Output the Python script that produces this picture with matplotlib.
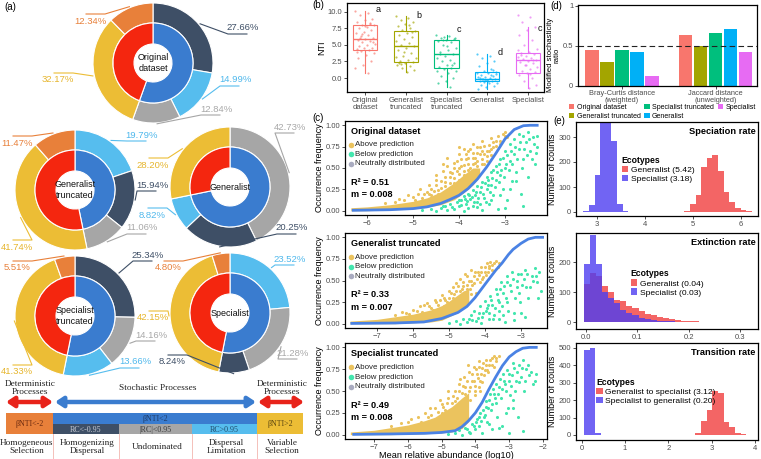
import numpy as np
import matplotlib
matplotlib.use('Agg')
import matplotlib.pyplot as plt
from matplotlib.patches import Wedge, Rectangle, FancyArrowPatch, Patch

plt.rcParams['font.family'] = ['Liberation Sans', 'DejaVu Sans']
plt.rcParams['font.size'] = 6
plt.rcParams['axes.linewidth'] = 0.9
plt.rcParams['xtick.major.size'] = 2.2
plt.rcParams['ytick.major.size'] = 2.2
plt.rcParams['xtick.major.width'] = 0.6
plt.rcParams['ytick.major.width'] = 0.6
plt.rcParams['xtick.labelsize'] = 5.5
plt.rcParams['ytick.labelsize'] = 5.5
plt.rcParams['xtick.major.pad'] = 1.2
plt.rcParams['ytick.major.pad'] = 1.2
plt.rcParams['xtick.color'] = '#333333'
plt.rcParams['ytick.color'] = '#333333'
plt.rcParams['xtick.labelcolor'] = '#4D4D4D'
plt.rcParams['ytick.labelcolor'] = '#4D4D4D'
SERIF = ['Liberation Serif', 'DejaVu Serif']

# ======================= DATA =======================
# ---- (a) community assembly donuts; order: HS, HD, UD, DL, VS
seg_names = ['Homogeneous Selection', 'Homogenizing Dispersal', 'Undominated',
             'Dispersal Limitation', 'Variable Selection']
donut_titles = ['Original\ndataset', 'Generalist\ntruncated', 'Generalist',
                'Specialist\ntruncated', 'Specialist']
pct_original = [12.34, 27.66, 12.84, 14.99, 32.17]
pct_gen_trunc = [11.47, 15.94, 11.06, 19.79, 41.74]
pct_generalist = [0.0, 20.25, 42.73, 8.82, 28.20]
pct_spec_trunc = [5.51, 25.34, 14.16, 13.66, 41.33]
pct_specialist = [4.80, 8.24, 21.28, 23.52, 42.15]
# clockwise order of the outer segments from 12 o'clock
order_original = [1, 3, 2, 4, 0]
order_gen_trunc = [3, 1, 2, 4, 0]
order_generalist = [2, 1, 3, 4, 0]
order_spec_trunc = [1, 2, 3, 4, 0]
order_specialist = [3, 2, 1, 4, 0]

scheme_top = ['Deterministic\nProcesses', 'Stochastic Processes', 'Deterministic\nProcesses']
scheme_bars = ['\u03b2NTI<-2', '\u03b2NTI<2', 'RC<-0.95', '|RC|<0.95', 'RC>0.95', '\u03b2NTI>2']
scheme_bottom = ['Homogeneous\nSelection', 'Homogenizing\nDispersal', 'Undominated',
                 'Dispersal\nLimitation', 'Variable\nSelection']

# ---- (b) NTI boxplots
nti_groups = ['Original\ndataset', 'Generalist\ntruncated', 'Specialist\ntruncated',
              'Generalist', 'Specialist']
nti_whislo = [0.8, 0.9, -1.3, -1.6, -1.5]
nti_q1 = [4.3, 2.4, 1.5, -0.5, 0.8]
nti_med = [5.9, 4.9, 3.6, -0.15, 2.8]
nti_q3 = [8.1, 7.1, 5.8, 0.9, 3.8]
nti_whishi = [10.2, 9.4, 6.5, 3.6, 7.8]
nti_letters = ['a', 'b', 'c', 'd', 'c']
nti_pts_original = [10.2, 9.8, 9.5, 9.0, 8.8, 8.5, 8.3, 8.1, 8.0, 7.8, 7.6, 7.3, 7.0, 6.8,
                    6.5, 6.3, 6.1, 5.9, 5.8, 5.6, 5.4, 5.2, 5.0, 4.8, 4.6, 4.5, 4.4, 4.3,
                    4.1, 3.8, 3.5, 3.1, 2.6, 2.0, 1.5, 0.8, 6.0, 5.5, 7.9, 4.0, 8.2, 6.6]
nti_pts_gen_trunc = [9.4, 9.1, 8.8, 8.5, 8.2, 7.9, 7.6, 7.3, 7.1, 6.8, 6.5, 6.2, 5.9, 5.6,
                     5.3, 5.0, 4.9, 4.6, 4.2, 3.8, 3.4, 3.0, 2.7, 2.5, 2.4, 2.2, 2.0, 1.8,
                     1.5, 1.2, 0.9, 2.3, 7.0, 4.0, 3.2, 8.0, 2.1]
nti_pts_spec_trunc = [6.5, 6.3, 6.1, 5.9, 5.8, 5.6, 5.4, 5.0, 4.6, 4.2, 3.9, 3.6, 3.4, 3.1,
                      2.8, 2.5, 2.2, 1.9, 1.6, 1.5, 1.3, 1.0, 0.7, 0.3, 0.0, -0.4, -0.8,
                      -1.3, 5.7, 6.0, 4.8, 3.7, 2.0, 6.2, 1.1]
nti_pts_generalist = [3.6, 3.3, 3.0, 2.6, 2.2, 1.8, 1.4, 1.0, 0.9, 0.7, 0.5, 0.3, 0.2, 0.1,
                      0.0, -0.1, -0.2, -0.3, -0.4, -0.5, -0.6, -0.7, -0.8, -1.0, -1.2,
                      -1.4, -1.6, 0.4, -0.2, 0.6, -0.4, 0.0, 1.2, -0.3, 0.8]
nti_pts_specialist = [9.6, 9.2, 8.5, 7.8, 7.2, 6.5, 5.8, 5.0, 4.4, 4.0, 3.8, 3.6, 3.4, 3.2,
                      3.0, 2.9, 2.8, 2.6, 2.4, 2.2, 2.0, 1.7, 1.4, 1.1, 0.9, 0.8, 0.5, 0.0,
                      -0.5, -1.0, -1.5, 3.5, 2.7, 1.9, 4.2, 0.6]

# ---- (c) neutral community model fits
c_titles = ['Original dataset', 'Generalist truncated', 'Specialist truncated']
c_r2 = ['0.51', '0.33', '0.49']
c_m = ['0.008', '0.007', '0.008']
c_legend = ['Above prediction', 'Below prediction', 'Neutrally distributed']

orig_curve_x = [-6.3, -5.5, -5.0, -4.7, -4.4, -4.2, -4.0, -3.8, -3.6, -3.4, -3.2, -3.0, -2.8, -2.6, -2.45, -2.3]
orig_curve_y = [0.005, 0.012, 0.025, 0.045, 0.085, 0.13, 0.18, 0.26, 0.37, 0.51, 0.67, 0.84, 0.95, 0.995, 1.0, 1.0]
orig_env_x = [-6.35, -6.0, -5.5, -5.0, -4.7, -4.4, -4.1, -3.9, -3.7, -3.55]
orig_env_lo = [0.0, 0.0, 0.01, 0.02, 0.04, 0.07, 0.13, 0.21, 0.30, 0.40]
orig_env_hi = [0.035, 0.045, 0.07, 0.11, 0.15, 0.22, 0.33, 0.42, 0.5, 0.5]
orig_above = [(-5.2, 0.13), (-5.0, 0.16), (-4.9, 0.2), (-4.8, 0.15), (-4.7, 0.22), (-4.6, 0.26),
              (-4.5, 0.3), (-4.45, 0.24), (-4.4, 0.35), (-4.3, 0.4), (-4.3, 0.29), (-4.2, 0.45),
              (-4.2, 0.33), (-4.1, 0.5), (-4.1, 0.38), (-4.05, 0.58), (-4.0, 0.43), (-4.0, 0.66),
              (-3.95, 0.52), (-3.9, 0.72), (-3.9, 0.46), (-3.85, 0.6), (-3.8, 0.55), (-3.8, 0.7),
              (-3.75, 0.5), (-3.7, 0.62), (-3.7, 0.78), (-3.65, 0.56), (-3.6, 0.68), (-3.6, 0.52),
              (-3.55, 0.74), (-3.5, 0.6), (-3.5, 0.82), (-3.45, 0.66), (-3.4, 0.7), (-3.4, 0.58),
              (-3.35, 0.77), (-3.3, 0.72), (-3.3, 0.85), (-3.25, 0.8), (-3.2, 0.76), (-3.15, 0.88),
              (-3.1, 0.82), (-3.05, 0.9), (-3.0, 0.88), (-4.5, 0.42), (-4.6, 0.18), (-4.35, 0.55),
              (-4.25, 0.62), (-3.85, 0.4), (-4.15, 0.27), (-3.65, 0.45), (-3.45, 0.55),
              (-5.6, 0.09), (-5.4, 0.1), (-5.3, 0.14), (-5.1, 0.18), (-4.95, 0.13), (-4.85, 0.25),
              (-4.75, 0.19), (-4.65, 0.3), (-4.55, 0.23), (-4.5, 0.36), (-4.4, 0.27), (-4.35, 0.47),
              (-4.3, 0.34), (-4.25, 0.52), (-4.2, 0.39), (-4.15, 0.44), (-4.1, 0.56), (-4.05, 0.47),
              (-4.0, 0.5), (-4.0, 0.74), (-3.95, 0.6), (-3.9, 0.53), (-3.85, 0.66), (-3.8, 0.62),
              (-3.8, 0.48), (-3.75, 0.72), (-3.7, 0.55), (-3.7, 0.68), (-3.65, 0.62), (-3.6, 0.58),
              (-3.6, 0.75), (-3.55, 0.66), (-3.5, 0.7), (-3.5, 0.55), (-3.45, 0.76), (-3.4, 0.64),
              (-3.35, 0.7), (-3.3, 0.65), (-3.25, 0.74), (-3.2, 0.82), (-3.1, 0.78), (-3.0, 0.92),
              (-2.95, 0.86), (-4.45, 0.2), (-4.6, 0.15), (-4.0, 0.36), (-3.9, 0.42), (-3.75, 0.42),
              (-4.65, 0.2), (-4.1, 0.33)]
orig_below = [(-4.8, 0.01), (-4.6, 0.02), (-4.5, 0.0), (-4.4, 0.03), (-4.3, 0.05), (-4.25, 0.01),
              (-4.2, 0.08), (-4.1, 0.02), (-4.05, 0.1), (-4.0, 0.05), (-3.95, 0.13), (-3.9, 0.0),
              (-3.9, 0.17), (-3.85, 0.08), (-3.8, 0.2), (-3.8, 0.03), (-3.75, 0.14), (-3.7, 0.24),
              (-3.7, 0.06), (-3.65, 0.18), (-3.6, 0.29), (-3.6, 0.1), (-3.55, 0.22), (-3.5, 0.34),
              (-3.5, 0.01), (-3.45, 0.15), (-3.4, 0.4), (-3.4, 0.26), (-3.35, 0.08), (-3.3, 0.45),
              (-3.3, 0.3), (-3.25, 0.18), (-3.2, 0.52), (-3.2, 0.36), (-3.15, 0.02), (-3.1, 0.6),
              (-3.1, 0.42), (-3.05, 0.25), (-3.0, 0.7), (-3.0, 0.5), (-2.95, 0.12), (-2.9, 0.78),
              (-2.9, 0.58), (-2.85, 0.35), (-2.8, 0.84), (-2.8, 0.66), (-2.75, 0.45), (-2.7, 0.9),
              (-2.7, 0.72), (-2.65, 0.2), (-2.6, 0.88), (-2.6, 0.6), (-2.55, 0.8), (-2.5, 0.92),
              (-2.45, 0.7), (-2.4, 0.86), (-2.35, 0.55), (-2.3, 0.88), (-2.3, 0.75), (-2.5, 0.4),
              (-3.6, 0.04), (-3.0, 0.03), (-2.6, 0.05),
              (-4.35, 0.06), (-4.15, 0.04), (-4.0, 0.12), (-3.95, 0.07), (-3.88, 0.14), (-3.82, 0.11),
              (-3.78, 0.18), (-3.72, 0.16), (-3.68, 0.1), (-3.62, 0.22), (-3.58, 0.15), (-3.52, 0.28),
              (-3.48, 0.2), (-3.44, 0.32), (-3.42, 0.1), (-3.38, 0.3), (-3.36, 0.36), (-3.32, 0.22),
              (-3.28, 0.38), (-3.26, 0.48), (-3.22, 0.28), (-3.18, 0.45), (-3.14, 0.55), (-3.12, 0.34),
              (-3.08, 0.48), (-3.04, 0.62), (-3.02, 0.4), (-2.98, 0.55), (-2.96, 0.65), (-2.92, 0.48),
              (-2.88, 0.7), (-2.84, 0.55), (-2.78, 0.75), (-2.74, 0.6), (-2.68, 0.8), (-2.64, 0.5),
              (-2.58, 0.72), (-2.52, 0.65), (-2.48, 0.84), (-2.42, 0.6), (-2.38, 0.78), (-2.32, 0.68),
              (-3.55, 0.08), (-3.3, 0.12), (-3.1, 0.18), (-2.9, 0.25), (-2.75, 0.35)]

gtr_curve_x = [-7.7, -6.5, -5.7, -5.2, -4.75, -4.5, -4.28, -4.1, -3.92, -3.7, -3.53, -3.35, -3.22, -3.0, -2.8, -2.6, -2.4]
gtr_curve_y = [0.003, 0.008, 0.02, 0.06, 0.13, 0.2, 0.3, 0.4, 0.5, 0.62, 0.7, 0.8, 0.86, 0.93, 0.98, 1.0, 1.0]
gtr_env_x = [-7.75, -7.0, -6.5, -6.0, -5.5, -5.2, -5.0, -4.8, -4.6, -4.45]
gtr_env_lo = [0.0, 0.0, 0.0, 0.01, 0.02, 0.04, 0.08, 0.12, 0.18, 0.23]
gtr_env_hi = [0.03, 0.05, 0.08, 0.11, 0.16, 0.21, 0.26, 0.32, 0.38, 0.4]
gtr_above = [(-6.0, 0.16), (-5.8, 0.2), (-5.6, 0.24), (-5.5, 0.18), (-5.4, 0.28), (-5.3, 0.22),
             (-5.2, 0.33), (-5.1, 0.27), (-5.0, 0.38), (-5.0, 0.3), (-4.9, 0.42), (-4.85, 0.34),
             (-4.8, 0.47), (-4.7, 0.38), (-4.7, 0.52), (-4.6, 0.44), (-4.55, 0.58), (-4.5, 0.4),
             (-4.45, 0.5), (-4.4, 0.62), (-4.35, 0.45), (-4.3, 0.55), (-4.25, 0.36), (-4.2, 0.6),
             (-4.15, 0.48), (-4.1, 0.66), (-4.05, 0.54), (-4.0, 0.6), (-3.95, 0.7), (-3.9, 0.64),
             (-3.85, 0.72), (-3.8, 0.68), (-3.7, 0.73), (-3.65, 0.66), (-5.6, 0.12), (-6.2, 0.12),
             (-4.95, 0.24), (-4.6, 0.3), (-5.15, 0.2), (-4.4, 0.34),
             (-6.5, 0.1), (-6.3, 0.14), (-6.1, 0.11), (-5.9, 0.15), (-5.75, 0.13), (-5.7, 0.22),
             (-5.55, 0.2), (-5.45, 0.16), (-5.35, 0.25), (-5.25, 0.28), (-5.15, 0.3), (-5.05, 0.25),
             (-4.95, 0.35), (-4.9, 0.3), (-4.8, 0.38), (-4.75, 0.44), (-4.65, 0.4), (-4.6, 0.48),
             (-4.5, 0.45), (-4.5, 0.55), (-4.42, 0.4), (-4.38, 0.5), (-4.3, 0.47), (-4.28, 0.6),
             (-4.22, 0.52), (-4.18, 0.56), (-4.12, 0.6), (-4.08, 0.52), (-4.0, 0.66), (-3.98, 0.56),
             (-3.92, 0.6), (-3.88, 0.67), (-3.8, 0.62), (-3.75, 0.7), (-3.6, 0.7), (-5.9, 0.09),
             (-5.3, 0.15), (-4.85, 0.28)]
gtr_below = [(-5.0, 0.01), (-4.8, 0.03), (-4.7, 0.0), (-4.6, 0.06), (-4.5, 0.02), (-4.4, 0.1),
             (-4.35, 0.04), (-4.3, 0.15), (-4.2, 0.07), (-4.15, 0.2), (-4.1, 0.01), (-4.05, 0.12),
             (-4.0, 0.26), (-3.95, 0.18), (-3.9, 0.05), (-3.85, 0.32), (-3.8, 0.22), (-3.75, 0.1),
             (-3.7, 0.4), (-3.65, 0.28), (-3.6, 0.15), (-3.55, 0.48), (-3.5, 0.35), (-3.45, 0.02),
             (-3.4, 0.55), (-3.4, 0.25), (-3.3, 0.45), (-3.25, 0.6), (-3.2, 0.12), (-3.1, 0.5),
             (-3.05, 0.35), (-3.0, 0.58), (-2.9, 0.62), (-2.85, 0.42), (-2.8, 0.3), (-2.7, 0.55),
             (-2.6, 0.65), (-2.55, 0.48), (-2.5, 0.6), (-2.45, 0.38), (-3.2, 0.04), (-3.6, 0.06),
             (-2.9, 0.08),
             (-4.45, 0.05), (-4.25, 0.03), (-4.18, 0.12), (-4.08, 0.08), (-3.98, 0.15), (-3.92, 0.22),
             (-3.88, 0.12), (-3.82, 0.28), (-3.78, 0.05), (-3.72, 0.18), (-3.68, 0.34), (-3.62, 0.25),
             (-3.58, 0.4), (-3.52, 0.2), (-3.48, 0.44), (-3.42, 0.3), (-3.38, 0.48), (-3.35, 0.15),
             (-3.28, 0.38), (-3.22, 0.52), (-3.18, 0.3), (-3.12, 0.42), (-3.08, 0.58), (-3.02, 0.25),
             (-2.98, 0.45), (-2.92, 0.52), (-2.82, 0.58), (-2.75, 0.42), (-2.66, 0.5), (-2.58, 0.55),
             (-2.52, 0.3), (-3.5, 0.1), (-3.0, 0.12)]

str_curve_x = [-7.6, -6.5, -5.5, -5.0, -4.6, -4.4, -4.2, -4.0, -3.8, -3.6, -3.4, -3.2, -3.0, -2.8, -2.6, -2.4, -2.2]
str_curve_y = [0.003, 0.008, 0.015, 0.025, 0.045, 0.09, 0.16, 0.25, 0.37, 0.52, 0.66, 0.79, 0.89, 0.95, 0.99, 1.0, 1.0]
str_env_x = [-7.7, -7.0, -6.5, -6.0, -5.5, -5.2, -5.0, -4.7, -4.4, -4.2]
str_env_lo = [0.0, 0.0, 0.0, 0.005, 0.01, 0.015, 0.02, 0.03, 0.07, 0.15]
str_env_hi = [0.03, 0.05, 0.08, 0.11, 0.16, 0.2, 0.25, 0.32, 0.42, 0.48]
str_above = [(-6.0, 0.15), (-5.7, 0.2), (-5.5, 0.25), (-5.3, 0.22), (-5.2, 0.3), (-5.0, 0.35),
             (-4.9, 0.28), (-4.8, 0.42), (-4.7, 0.36), (-4.6, 0.5), (-4.55, 0.42), (-4.5, 0.58),
             (-4.4, 0.48), (-4.35, 0.66), (-4.3, 0.55), (-4.2, 0.72), (-4.2, 0.5), (-4.1, 0.62),
             (-4.05, 0.78), (-4.0, 0.56), (-3.95, 0.7), (-3.9, 0.84), (-3.85, 0.62), (-3.8, 0.76),
             (-3.75, 0.68), (-3.7, 0.86), (-3.65, 0.74), (-3.6, 0.8), (-3.5, 0.88), (-3.45, 0.78),
             (-3.4, 0.84), (-3.3, 0.9), (-4.75, 0.2), (-5.8, 0.1), (-4.45, 0.3), (-4.15, 0.4),
             (-4.0, 0.45), (-3.85, 0.5),
             (-6.5, 0.1), (-6.2, 0.13), (-5.9, 0.18), (-5.6, 0.15), (-5.4, 0.2), (-5.35, 0.3),
             (-5.1, 0.26), (-5.05, 0.4), (-4.95, 0.32), (-4.85, 0.36), (-4.8, 0.5), (-4.65, 0.44),
             (-4.6, 0.38), (-4.5, 0.5), (-4.45, 0.64), (-4.38, 0.56), (-4.32, 0.46), (-4.25, 0.62),
             (-4.22, 0.8), (-4.15, 0.55), (-4.1, 0.7), (-4.05, 0.62), (-3.98, 0.75), (-3.92, 0.65),
             (-3.88, 0.78), (-3.82, 0.7), (-3.78, 0.82), (-3.72, 0.74), (-3.68, 0.8), (-3.62, 0.72),
             (-3.58, 0.86), (-3.52, 0.8), (-3.45, 0.9), (-3.38, 0.88), (-4.0, 0.5), (-4.3, 0.35),
             (-4.6, 0.28), (-5.0, 0.25), (-3.9, 0.55), (-3.8, 0.6)]
str_below = [(-4.8, 0.01), (-4.6, 0.02), (-4.5, 0.05), (-4.4, 0.0), (-4.3, 0.08), (-4.2, 0.03),
             (-4.1, 0.12), (-4.0, 0.06), (-3.95, 0.18), (-3.9, 0.1), (-3.85, 0.25), (-3.8, 0.02),
             (-3.75, 0.2), (-3.7, 0.32), (-3.65, 0.14), (-3.6, 0.4), (-3.55, 0.28), (-3.5, 0.06),
             (-3.45, 0.47), (-3.4, 0.36), (-3.35, 0.2), (-3.3, 0.55), (-3.25, 0.42), (-3.2, 0.1),
             (-3.15, 0.62), (-3.1, 0.5), (-3.05, 0.3), (-3.0, 0.7), (-2.95, 0.56), (-2.9, 0.4),
             (-2.85, 0.76), (-2.8, 0.62), (-2.75, 0.2), (-2.7, 0.8), (-2.65, 0.66), (-2.6, 0.85),
             (-2.55, 0.5), (-2.5, 0.75), (-2.4, 0.68), (-2.3, 0.58), (-2.2, 0.7), (-3.0, 0.02),
             (-2.6, 0.04),
             (-4.25, 0.06), (-4.15, 0.02), (-4.05, 0.1), (-3.98, 0.14), (-3.9, 0.2), (-3.82, 0.16),
             (-3.78, 0.28), (-3.72, 0.22), (-3.68, 0.38), (-3.62, 0.3), (-3.58, 0.46), (-3.52, 0.35),
             (-3.48, 0.52), (-3.42, 0.42), (-3.38, 0.58), (-3.32, 0.46), (-3.28, 0.64), (-3.22, 0.52),
             (-3.18, 0.7), (-3.12, 0.58), (-3.08, 0.74), (-3.02, 0.62), (-2.98, 0.45), (-2.92, 0.68),
             (-2.88, 0.82), (-2.82, 0.5), (-2.78, 0.72), (-2.72, 0.6), (-2.62, 0.76), (-2.52, 0.62),
             (-2.45, 0.8), (-2.35, 0.72), (-2.25, 0.62), (-3.6, 0.12), (-3.3, 0.08), (-3.1, 0.25),
             (-2.9, 0.3)]

# ---- (d) modified stochasticity ratio
msr_groups = ['Bray-Curtis distance\n(weighted)', 'Jaccard distance\n(unweighted)']
msr_datasets = ['Original dataset', 'Generalist truncated', 'Specialist truncated',
                'Generalist', 'Specialist']
msr_bray = [0.44, 0.29, 0.44, 0.42, 0.12]
msr_jaccard = [0.64, 0.50, 0.66, 0.71, 0.42]

# ---- (e) diversification rate histograms
e_titles = ['Speciation rate', 'Extinction rate', 'Transition rate']
e_labels_spec = ['Generalist (5.42)', 'Specialist (3.18)']
e_labels_ext = ['Generalist (0.04)', 'Specialist (0.03)']
e_labels_tr = ['Generalist to specialist (3.12)', 'Specialist to generalist (0.20)']

spec_blue_edges = [2.715, 2.832, 2.949, 3.066, 3.183, 3.300, 3.417, 3.534, 3.651]
spec_blue_counts = [6, 30, 150, 400, 380, 286, 32, 6]
spec_red_edges = [4.821, 4.938, 5.055, 5.172, 5.289, 5.406, 5.523, 5.640, 5.757, 5.874, 5.991, 6.108, 6.225]
spec_red_counts = [5, 32, 68, 180, 217, 230, 164, 81, 41, 15, 8, 3]

ext_edges = [-0.0035, 0.0083, 0.0201, 0.0319, 0.0437, 0.0555, 0.0673, 0.0791, 0.0909, 0.1027,
             0.1145, 0.1263, 0.1381, 0.1499, 0.1617, 0.1735, 0.1853, 0.1971, 0.2089, 0.2207,
             0.2325, 0.2443, 0.2561, 0.2679, 0.2797, 0.2915, 0.3033, 0.3151, 0.3269]
ext_red_counts = [128, 164, 155, 120, 100, 75, 70, 53, 48, 37, 27, 23, 17, 15, 10, 7, 5, 4, 3,
                  2, 2, 1, 1, 1, 1, 1, 1, 1]
ext_blue_counts = [194, 291, 194, 100, 80, 63, 40, 30, 23, 15, 12, 8, 5, 4, 3, 2, 2, 1, 1, 0,
                   0, 0, 0, 0, 0, 0, 0, 0]

tr_blue_edges = [0.054, 0.185, 0.316, 0.447]
tr_blue_counts = [486, 495, 13]
tr_red_edges = [2.36, 2.491, 2.622, 2.753, 2.884, 3.015, 3.146, 3.277, 3.408, 3.539, 3.670, 3.801, 3.932]
tr_red_counts = [1, 2, 10, 80, 143, 250, 240, 76, 48, 10, 3, 1]

# ======================= STYLE =======================
seg_colors = ['#E8803A', '#3E4F66', '#A6A6A6', '#56BDEE', '#ECBD35']
seg_text_colors = ['#E8803A', '#3E4F66', '#A8A8A8', '#4FB8EC', '#E6B52C']
det_color = '#F4260F'
sto_color = '#3A7CCF'
hue5 = ['#F8766D', '#A3A500', '#00BF7D', '#00B0F6', '#E76BF3']
c_yellow = '#EBC35E'
c_green = '#43E6AE'
c_gray = '#A9ABC0'
c_curve = '#4A82E4'
h_red = '#F24A4A'
h_blue = '#4D3DF0'

W, H = 761, 459
fig = plt.figure(figsize=(W / 100, H / 100), dpi=100)


def add_ax(x0, y0, x1, y1):
    return fig.add_axes([x0 / W, 1 - y1 / H, (x1 - x0) / W, (y1 - y0) / H])


# ======================= (a) =======================
axA = fig.add_axes([0, 0, 325 / W, 1])
axA.set_xlim(0, 325)
axA.set_ylim(459, 0)
axA.axis('off')

R_OUT, R_MID, R_IN = 60, 40, 19
donut_centers = [(153, 63), (75, 190), (230, 187), (75, 316), (230, 313)]
donut_pcts = [pct_original, pct_gen_trunc, pct_generalist, pct_spec_trunc, pct_specialist]
donut_orders = [order_original, order_gen_trunc, order_generalist, order_spec_trunc, order_specialist]
label_xy = [
    [(90, 21), (243, 28), (216, 109), (235, 80), (58, 80)],
    [(17, 143), (152, 185), (142, 228), (142, 135), (17, 247)],
    [None, (292, 228), (290, 127), (152, 215), (153, 165)],
    [(17, 268), (148, 255), (151, 335), (135, 362), (17, 372)],
    [(168, 268), (172, 362), (293, 353), (290, 259), (153, 318)],
]

for (cx, cy), pcts, order, title, lxy in zip(donut_centers, donut_pcts, donut_orders,
                                              donut_titles, label_xy):
    s = 0.0
    mids = {}
    for idx in order:
        p = pcts[idx]
        if p <= 0:
            continue
        axA.add_patch(Wedge((cx, cy), R_OUT, s * 3.6 - 90, (s + p) * 3.6 - 90,
                            width=R_OUT - R_MID, fc=seg_colors[idx], ec='white', lw=0.8))
        mids[idx] = (s + p / 2) * 3.6
        s += p
    sto = pcts[1] + pcts[2] + pcts[3]
    axA.add_patch(Wedge((cx, cy), R_MID, -90, sto * 3.6 - 90, width=R_MID - R_IN,
                        fc=sto_color, ec='white', lw=0.8))
    axA.add_patch(Wedge((cx, cy), R_MID, sto * 3.6 - 90, 270, width=R_MID - R_IN,
                        fc=det_color, ec='white', lw=0.8))
    axA.text(cx, cy, title, ha='center', va='center', fontsize=6.5, linespacing=1.15,
             color='#111111')
    for idx, pos in enumerate(lxy):
        if pos is None or pcts[idx] <= 0:
            continue
        tx, ty = pos
        ang = np.deg2rad(mids[idx])
        px, py = cx + (R_OUT + 1) * np.sin(ang), cy - (R_OUT + 1) * np.cos(ang)
        hw = 15
        if tx > cx:
            ly = ty + 6
            xs = [px, tx - hw, tx + hw * 0.3]
        else:
            ly = ty - 7
            xs = [px, tx + hw, tx - hw * 0.3]
        axA.plot(xs, [py, ly, ly], color=seg_colors[idx], lw=0.8, solid_capstyle='butt')
        axA.text(tx, ty, '%.2f%%' % pcts[idx], ha='center', va='center', fontsize=6.8,
                 color=seg_text_colors[idx])

# scheme
tx_top = [30, 158, 282]
for t, x in zip(scheme_top, tx_top):
    axA.text(x, 388, t, ha='center', va='center', fontsize=6.7, family=SERIF,
             linespacing=1.0, color='#222222')
for (x0, x1, col) in [(6, 53, '#E8231A'), (55, 256, sto_color), (258, 304, '#E8231A')]:
    axA.add_patch(FancyArrowPatch((x0, 402), (x1, 402), arrowstyle='<|-|>,head_length=4.5,head_width=3',
                                  mutation_scale=1, lw=3.2, color=col, shrinkA=0, shrinkB=0))
boxes = [(6, 413, 47, 21, seg_colors[0]), (53, 413, 204, 11, sto_color),
         (53, 424, 66, 10, seg_colors[1]), (119, 424, 73, 10, seg_colors[2]),
         (192, 424, 65, 10, seg_colors[3]), (257, 413, 46, 21, seg_colors[4])]
txt_cols = ['#6B2A10', '#1F3B66', '#C8CCD4', '#3A3A3A', '#1F4C6B', '#5A4510']
for (x, y, w, h, c), t, tc in zip(boxes, scheme_bars, txt_cols):
    axA.add_patch(Rectangle((x, y), w, h, fc=c, ec='none'))
    axA.text(x + w / 2, y + h / 2 + 0.5, t, ha='center', va='center', fontsize=5.8,
             family=SERIF, color=tc)
for x in [53, 119, 192, 257]:
    axA.plot([x, x], [434, 459], color='#F2B6AE', lw=0.6)
for t, x in zip(scheme_bottom, [27, 87, 157, 226, 282]):
    axA.text(x, 447, t, ha='center', va='center', fontsize=6.7, family=SERIF,
             linespacing=1.05, color='#222222')
axA.text(4, 7, '(a)', ha='left', va='center', fontsize=7)

# ======================= (b) =======================
axB = add_ax(347, 3, 544, 92)
posB = np.arange(1, 6)
stats = [dict(whislo=a, q1=b, med=c, q3=d, whishi=e, fliers=[])
         for a, b, c, d, e in zip(nti_whislo, nti_q1, nti_med, nti_q3, nti_whishi)]
bp = axB.bxp(stats, positions=posB, widths=0.6, showfliers=False, showcaps=False,
             patch_artist=True)
for i, c in enumerate(hue5):
    bp['boxes'][i].set(facecolor='white', edgecolor=c, linewidth=0.8)
    bp['medians'][i].set(color=c, linewidth=1.0)
    bp['whiskers'][2 * i].set(color=c, linewidth=0.8)
    bp['whiskers'][2 * i + 1].set(color=c, linewidth=0.8)
nti_points = [nti_pts_original, nti_pts_gen_trunc, nti_pts_spec_trunc, nti_pts_generalist,
              nti_pts_specialist]
for i, pts in enumerate(nti_points):
    n = len(pts)
    off = ((np.arange(n) * 0.618034) % 1 - 0.5) * 0.5
    axB.scatter(posB[i] + off, pts, s=2.5, color=hue5[i], alpha=0.65, lw=0, zorder=4)
nti_letter_y = [10.3, 9.4, 7.3, 3.8, 7.5]
for i, (l, y) in enumerate(zip(nti_letters, nti_letter_y)):
    axB.text(posB[i] + 0.25, y, l, fontsize=6.5, ha='left', va='center', color='#111111')
axB.set_xlim(0.55, 5.40)
axB.set_ylim(-2.12, 11.36)
axB.set_yticks([0, 2.5, 5, 7.5, 10])
axB.set_yticklabels(['0.0', '2.5', '5.0', '7.5', '10.0'])
axB.set_xticks(posB)
axB.set_xticklabels(nti_groups, fontsize=5.5, linespacing=1.1)
axB.set_ylabel('NTI', fontsize=6.5, labelpad=1)
fig.text(312 / W, 1 - 5 / H, '(b)', fontsize=7, ha='left', va='center')

# ======================= (c) =======================
c_boxes = [(345, 121, 547, 215), (345, 233, 547, 328), (345, 343, 547, 439)]
c_xlims = [(-6.478, -2.087), (-7.889, -2.278), (-7.858, -1.882)]
c_xticks = [[-6, -5, -4, -3], [-7, -6, -5, -4, -3], [-7, -6, -5, -4, -3, -2]]
c_curves = [(orig_curve_x, orig_curve_y), (gtr_curve_x, gtr_curve_y), (str_curve_x, str_curve_y)]
c_envs = [(orig_env_x, orig_env_lo, orig_env_hi), (gtr_env_x, gtr_env_lo, gtr_env_hi),
          (str_env_x, str_env_lo, str_env_hi)]
c_above = [orig_above, gtr_above, str_above]
c_below = [orig_below, gtr_below, str_below]
for k in range(3):
    ax = add_ax(*c_boxes[k])
    ex, elo, ehi = c_envs[k]
    ax.fill_between(ex, elo, ehi, color=c_yellow, lw=0, zorder=1)
    ab = np.array(c_above[k])
    be = np.array(c_below[k])
    ax.scatter(ab[:, 0], ab[:, 1], s=5, color=c_yellow, lw=0, zorder=2)
    ax.scatter(be[:, 0], be[:, 1], s=5, color=c_green, lw=0, zorder=3)
    ax.plot(c_curves[k][0], c_curves[k][1], color=c_curve, lw=2.0, zorder=4)
    ax.set_xlim(*c_xlims[k])
    ax.set_ylim(-0.05, 1.05)
    ax.set_xticks(c_xticks[k])
    ax.set_yticks([0, 0.25, 0.5, 0.75, 1.0])
    ax.set_yticklabels(['0.00', '0.25', '0.50', '0.75', '1.00'])
    ax.set_ylabel('Occurrence frequency', fontsize=6.5, labelpad=1)
    ax.text(0.03, 0.89, c_titles[k], transform=ax.transAxes, fontsize=6.6,
            fontweight='bold', ha='left', va='center')
    for j, (lab, col) in enumerate(zip(c_legend, [c_yellow, c_green, c_gray])):
        yy = 0.745 - j * 0.1
        ax.scatter([0.03], [yy], s=16, color=col, transform=ax.transAxes, lw=0,
                   clip_on=False, zorder=6)
        ax.text(0.05, yy, lab, transform=ax.transAxes, fontsize=5.7, ha='left',
                va='center', color='#222222')
    ax.text(0.03, 0.35, 'R\u00b2 = ' + c_r2[k], transform=ax.transAxes, fontsize=6.6,
            fontweight='bold', ha='left', va='center')
    ax.text(0.03, 0.22, 'm = ' + c_m[k], transform=ax.transAxes, fontsize=6.6,
            fontweight='bold', ha='left', va='center')
    if k == 2:
        ax.set_xlabel('Mean relative abundance (log10)', fontsize=6.6, labelpad=0.5)
fig.text(312 / W, 1 - 118 / H, '(c)', fontsize=7, ha='left', va='center')

# ======================= (d) =======================
axD = add_ax(578, 5, 757, 86)
for i, name in enumerate(msr_datasets):
    xs = np.array([1, 2]) + (i - 2) * 0.16
    axD.bar(xs, [msr_bray[i], msr_jaccard[i]], width=0.14, color=hue5[i], label=name)
axD.axhline(0.5, color='#222222', lw=0.8, ls=(0, (5, 3)))
axD.set_xlim(0.53, 2.44)
axD.set_ylim(-0.005, 1.01)
axD.set_yticks([0, 0.5, 1])
axD.set_yticklabels(['0', '0.5', '1'])
axD.set_xticks([1, 2])
axD.set_xticklabels(msr_groups, fontsize=5.3, linespacing=0.95)
axD.tick_params(axis='x', pad=0.5)
axD.set_ylabel('Modified stochasticity\nratio', fontsize=5.6, labelpad=1, linespacing=0.9)
axD.yaxis.set_label_coords(-0.1, 0.38)
h, l = axD.get_legend_handles_labels()
axD.legend(h, l, loc='upper left', bbox_to_anchor=(-0.05, -0.22), ncol=3, fontsize=5.0,
           frameon=False, handlelength=0.75, handleheight=0.75, handletextpad=0.35,
           columnspacing=0.55, labelspacing=0.25, borderpad=0, borderaxespad=0)
fig.text(550 / W, 1 - 6 / H, '(d)', fontsize=7, ha='left', va='center')

# ======================= (e) =======================
e_boxes = [(576, 122, 758, 216), (576, 233, 758, 329), (576, 343, 758, 440)]
e_xlims = [(2.5625, 6.354), (-0.0188, 0.3346), (-0.132, 4.07)]
e_ylims = [(-16, 360), (-23, 297), (-28.6, 526)]
e_xticks = [[3, 4, 5, 6], [0.0, 0.1, 0.2, 0.3], [0, 1, 2, 3, 4]]
e_xticklabels = [['3', '4', '5', '6'], ['0.0', '0.1', '0.2', '0.3'], ['0', '1', '2', '3', '4']]
e_yticks = [[0, 100, 200, 300], [0, 100, 200], [0, 100, 200, 300, 400, 500]]
e_red = [(spec_red_edges, spec_red_counts), (ext_edges, ext_red_counts),
         (tr_red_edges, tr_red_counts)]
e_blue = [(spec_blue_edges, spec_blue_counts), (ext_edges, ext_blue_counts),
          (tr_blue_edges, tr_blue_counts)]
e_leg_labels = [e_labels_spec, e_labels_ext, e_labels_tr]
e_leg_anchor = [(0.25, 0.64), (0.30, 0.62), (0.11, 0.64)]
for k in range(3):
    ax = add_ax(*e_boxes[k])
    ax.stairs(e_red[k][1], e_red[k][0], fill=True, color=h_red, alpha=0.85, lw=0)
    ax.stairs(e_blue[k][1], e_blue[k][0], fill=True, color=h_blue, alpha=0.8, lw=0)
    ax.set_xlim(*e_xlims[k])
    ax.set_ylim(*e_ylims[k])
    ax.set_xticks(e_xticks[k])
    ax.set_xticklabels(e_xticklabels[k])
    ax.set_yticks(e_yticks[k])
    ax.set_ylabel('Number of counts', fontsize=6.5, labelpad=1)
    ax.text(0.985, 0.9, e_titles[k], transform=ax.transAxes, fontsize=6.7,
            fontweight='bold', ha='right', va='center')
    handles = [Patch(facecolor=h_red, alpha=0.85), Patch(facecolor=h_blue, alpha=0.8)]
    ax.legend(handles, e_leg_labels[k], title='Ecotypes', loc='upper left',
              bbox_to_anchor=e_leg_anchor[k], fontsize=6.1, frameon=False,
              handlelength=0.8, handleheight=0.8, handletextpad=0.3,
              labelspacing=0.1, borderpad=0, borderaxespad=0,
              title_fontproperties={'weight': 'bold', 'size': 6.2}, alignment='left')
fig.text(553 / W, 1 - 121 / H, '(e)', fontsize=7, ha='left', va='center')

fig.savefig('out.png', dpi=100)
